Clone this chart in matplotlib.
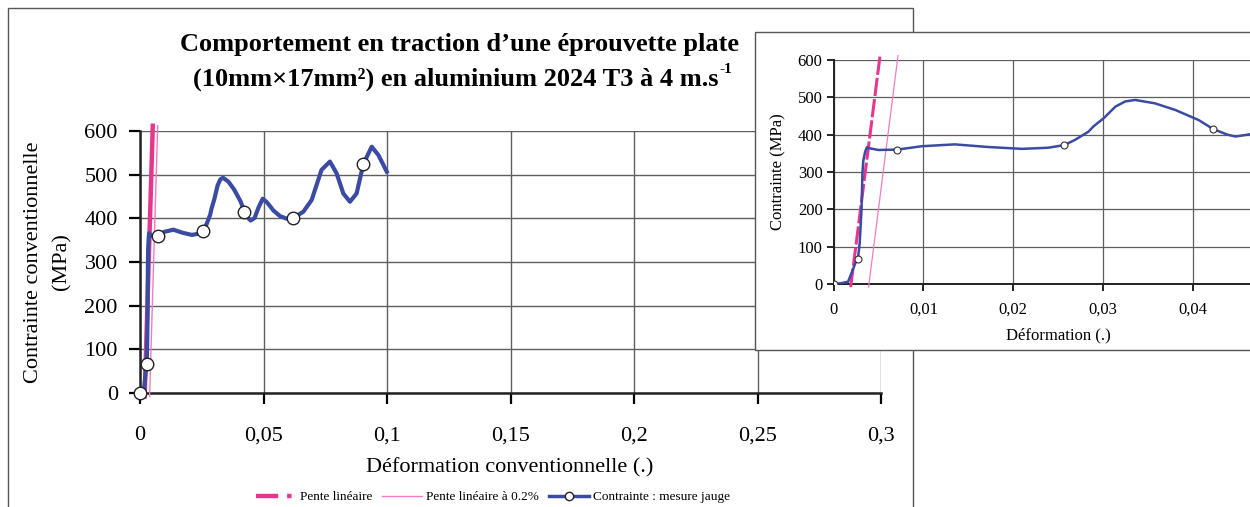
import matplotlib
matplotlib.use("Agg")
import matplotlib.pyplot as plt
from matplotlib.lines import Line2D
from matplotlib.patches import Rectangle

plt.rcParams['font.family'] = ['Liberation Serif', 'DejaVu Serif']

# ---------------- data ----------------
strain = [0.0, 0.0008, 0.0016, 0.0020, 0.0024, 0.0027, 0.0029, 0.0031, 0.0032,
          0.0033, 0.0035, 0.0037, 0.0041, 0.0050, 0.0071, 0.0098, 0.0135, 0.0172,
          0.0210, 0.0239, 0.0257, 0.0269, 0.0284, 0.0290, 0.0301, 0.0314, 0.0325,
          0.0336, 0.0358, 0.0381, 0.0407, 0.0423, 0.0439, 0.0448, 0.0464, 0.0480,
          0.0497, 0.0515, 0.0540, 0.0567, 0.0595, 0.0621, 0.0661, 0.0695, 0.0735,
          0.0769, 0.0796, 0.0823, 0.0850, 0.0877, 0.0904, 0.0938, 0.0965, 0.0999]
stress = [0, 2, 6, 30, 55, 67, 110, 198, 296,
          330, 354, 366, 363, 359, 360, 369, 374, 367,
          362, 365, 372, 386, 408, 423, 444, 475, 489,
          493, 484, 466, 439, 415, 400, 395, 401, 425,
          445, 436, 418, 405, 399, 401, 415, 442, 511,
          530, 503, 457, 438, 457, 524, 564, 545, 507]
marker_strain = [0.0, 0.0027, 0.0071, 0.0257, 0.0423, 0.0621, 0.0904]

pente_strain = [0.00189, 0.00517]
pente_stress = [-8, 612]
pente02_strain = [0.00389, 0.00717]
pente02_stress = [-8, 612]

main_xticks = [0, 0.05, 0.10, 0.15, 0.20, 0.25, 0.30]
main_xticklabels = ['0', '0,05', '0,1', '0,15', '0,2', '0,25', '0,3']
yticks = [0, 100, 200, 300, 400, 500, 600]
ytick_labels = ['0', '100', '200', '300', '400', '500', '600']
inset_xticks = [0, 0.01, 0.02, 0.03, 0.04]
inset_xticklabels = ['0', '0,01', '0,02', '0,03', '0,04']

title_l1 = "Comportement en traction d\u2019une \u00e9prouvette plate"
title_l2 = "(10mm\u00d717mm\u00b2) en aluminium 2024 T3 \u00e0 4 m.s"
title_sup = "-1"
legend_labels = ["Pente lin\u00e9aire", "Pente lin\u00e9aire \u00e0 0.2%", "Contrainte : mesure jauge"]

# ---------------- style ----------------
W, H = 1250, 507
PINK = '#e6378f'
PINK_LIGHT = '#f07cc0'
BLUE = '#3b4ba3'
GRID = '#5e5e5e'

def fx(px):
    return px / W

def fy(py):
    return 1 - py / H

mark_idx = [strain.index(s) for s in marker_strain]

fig = plt.figure(figsize=(W / 100, H / 100), dpi=100)
fig.patch.set_facecolor('white')

# outer frame of main chart
fig.add_artist(Rectangle((fx(8), fy(520)), fx(913) - fx(8), fy(8) - fy(520),
                         transform=fig.transFigure, facecolor='none',
                         edgecolor='#555555', lw=1.0, zorder=0.5))

# ---------------- main axes ----------------
ax = fig.add_axes([fx(140), fy(393), fx(881) - fx(140), fy(131) - fy(393)], zorder=1)
ax.set_xlim(0, 0.3)
ax.set_ylim(0, 600)
ax.set_xticks(main_xticks)
ax.set_xticklabels(main_xticklabels)
ax.set_yticks(yticks)
ax.set_yticklabels(ytick_labels)
ax.grid(True, color=GRID, lw=1.0)
ax.set_axisbelow(True)
for s in ['top', 'right']:
    ax.spines[s].set_visible(False)
for s in ['left', 'bottom']:
    ax.spines[s].set_linewidth(1.8)
    ax.spines[s].set_color('#222222')
ax.tick_params(axis='both', direction='out', length=8, width=1.6, labelsize=16)
ax.tick_params(axis='x', pad=16)
ax.tick_params(axis='y', pad=8)

ax.plot(pente_strain, pente_stress, color=PINK, lw=3.2, clip_on=False, zorder=3)
ax.plot(pente02_strain, pente02_stress, color=PINK_LIGHT, lw=1.0, clip_on=False, zorder=3)
ax.plot(strain, stress, color=BLUE, lw=3.0, marker='o', markevery=mark_idx,
        markersize=9, markerfacecolor='white', markeredgecolor='#222222',
        markeredgewidth=1.0, clip_on=False, zorder=4)

fig.text(fx(48), fy(262), "Contrainte conventionnelle\n(MPa)", rotation=90,
         ha='center', va='center', fontsize=16, multialignment='center', linespacing=1.65)
fig.text(fx(510), fy(468), "D\u00e9formation conventionnelle (.)", ha='center',
         va='center', fontsize=16)

fig.text(fx(460), fy(45), title_l1, ha='center', va='center', fontsize=19,
         fontweight='bold')
t2 = fig.text(fx(456), fy(79), title_l2, ha='center', va='center', fontsize=19,
              fontweight='bold')
ax.annotate(title_sup, xy=(1, 0.9), xycoords=t2, xytext=(0.5, 0),
            textcoords='offset points', ha='left', va='center', fontsize=11,
            fontweight='bold', annotation_clip=False)

# legend
h1 = Line2D([], [], color=PINK, lw=3.2, dashes=(5, 2, 1, 1))
h2 = Line2D([], [], color=PINK_LIGHT, lw=1.0)
h3 = Line2D([], [], color=BLUE, lw=2.5, marker='o', markersize=6,
            markerfacecolor='white', markeredgecolor='#222222')
fig.legend([h1, h2, h3], legend_labels, loc='center', bbox_to_anchor=(fx(493), fy(497)),
           ncol=3, frameon=False, fontsize=9.5, handlelength=3.0, handletextpad=0.3,
           columnspacing=0.8)

# ---------------- inset ----------------
fig.add_artist(Rectangle((fx(755), fy(350)), fx(1262) - fx(755), fy(32) - fy(350),
                         transform=fig.transFigure, facecolor='white',
                         edgecolor='#555555', lw=1.0, zorder=2))

axi = fig.add_axes([fx(833.7), fy(284), fx(448.5), fy(60) - fy(284)], zorder=3)
axi.set_xlim(0, 0.05)
axi.set_ylim(0, 600)
axi.set_xticks(inset_xticks)
axi.set_xticklabels(inset_xticklabels)
axi.set_yticks(yticks)
axi.set_yticklabels(ytick_labels)
axi.grid(True, color=GRID, lw=0.9)
axi.set_axisbelow(True)
axi.patch.set_alpha(0)
for s in ['top', 'right']:
    axi.spines[s].set_visible(False)
for s in ['left', 'bottom']:
    axi.spines[s].set_linewidth(1.4)
    axi.spines[s].set_color('#222222')
axi.tick_params(axis='both', direction='out', length=5, width=1.2, labelsize=12)
axi.tick_params(axis='x', pad=8)
axi.tick_params(axis='y', pad=3)

axi.plot(pente_strain, pente_stress, color=PINK, lw=2.2, dashes=(6, 1),
         clip_on=False, zorder=3)
axi.plot(pente02_strain, pente02_stress, color=PINK_LIGHT, lw=0.9, clip_on=False, zorder=3)
axi.plot(strain, stress, color=BLUE, lw=1.8, marker='o', markevery=mark_idx,
         markersize=5, markerfacecolor='white', markeredgecolor='#333333',
         markeredgewidth=0.8, clip_on=True, zorder=4)

fig.text(fx(778), fy(172), "Contrainte (MPa)", rotation=90, ha='center',
         va='center', fontsize=12, zorder=5)
fig.text(fx(1058), fy(335), "D\u00e9formation (.)", ha='center', va='center',
         fontsize=12, zorder=5)

fig.savefig("out.png", dpi=100, facecolor='white')
